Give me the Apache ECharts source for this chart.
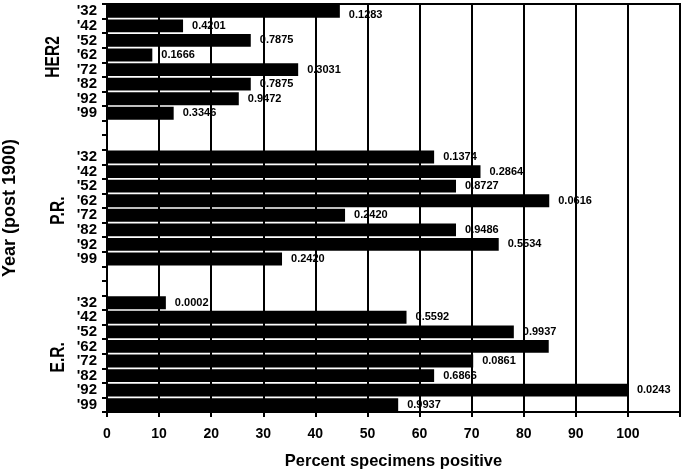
<!DOCTYPE html>
<html><head><meta charset="utf-8">
<script src="https://cdn.jsdelivr.net/npm/echarts@6/dist/echarts.min.js"></script>
<style>html,body{margin:0;padding:0;background:#fff}#c{width:685px;height:470px}</style>
</head><body><div id="c"></div>
<script>
const years = ["'32","'42","'52","'62","'72","'82","'92","'99"];
const groups = ["HER2","P.R.","E.R."];
const her2 = [44.7,14.6,27.6,8.7,36.7,27.6,25.3,12.8];
const pr   = [62.8,71.7,67.0,84.9,45.7,67.0,75.2,33.6];
const er   = [11.3,57.5,78.1,84.8,70.3,62.8,100.0,55.9];
const her2P = ["0.1283","0.4201","0.7875","0.1666","0.3031","0.7875","0.9472","0.3346"];
const prP   = ["0.1374","0.2864","0.8727","0.0616","0.2420","0.9486","0.5534","0.2420"];
const erP   = ["0.0002","0.5592","0.9937","","0.0861","0.6866","0.0243","0.9937"];
const xTicks = [0,10,20,30,40,50,60,70,80,90,100];

const groupVals = [her2, pr, er];
const groupP = [her2P, prP, erP];
const cats = [], vals = [], pl = [], groupMid = [];
groupVals.forEach((g, gi) => {
  years.forEach((y, i) => {
    cats.push(groups[gi] + '|' + y);
    const item = { value: g[i] };
    if (gi === 0 && i === 0) item.label = { offset: [0, 4] };
    vals.push(item);
    pl.push(groupP[gi][i]);
  });
  groupMid.push(cats.length - 4);
  if (gi < groupVals.length - 1) {
    for (let k = 0; k < 2; k++) { cats.push('gap' + gi + k); vals.push(null); pl.push(''); }
  }
});

const font = '"Liberation Sans", Arial, sans-serif';
const chart = echarts.init(document.getElementById('c'));
chart.setOption({
  animation: false,
  grid: { left: 107, right: 5, top: 4, bottom: 58, containLabel: false, outerBoundsMode: 'none',
    show: true, borderColor: '#000', borderWidth: 2, backgroundColor: 'transparent' },
  xAxis: {
    type: 'value', min: 0, max: 110, interval: 10,
    name: 'Percent specimens positive', nameLocation: 'middle', nameGap: 41,
    nameTextStyle: { fontFamily: font, fontWeight: 'bold', fontSize: 16.5, color: '#000' },
    axisLine: { show: true, lineStyle: { color: '#000', width: 2 } },
    axisTick: { show: true, length: 5, lineStyle: { color: '#000', width: 2 } },
    axisLabel: { fontFamily: font, fontWeight: 'bold', fontSize: 14, color: '#000', margin: 15,
      formatter: v => xTicks.indexOf(v) >= 0 ? String(v) : '' },
    splitLine: { show: true, lineStyle: { color: '#000', width: 2 } }
  },
  yAxis: {
    type: 'category', data: cats, inverse: true,
    name: 'Year (post 1900)', nameLocation: 'middle', nameGap: 88,
    nameTextStyle: { fontFamily: font, fontWeight: 'bold', fontSize: 18, color: '#000' },
    axisLine: { show: true, lineStyle: { color: '#000', width: 2 } },
    axisTick: { show: true, length: 5, lineStyle: { color: '#000', width: 2 } },
    axisLabel: { interval: 0, fontFamily: font, fontWeight: 'bold', fontSize: 15, color: '#000', margin: 10,
      formatter: v => v.indexOf('|') >= 0 ? v.split('|')[1] : '' },
    splitLine: { show: false }
  },
  series: [{
    type: 'bar', data: vals, barCategoryGap: '12%',
    itemStyle: { color: '#000' },
    label: { show: true, position: 'right', distance: 9, fontFamily: font, fontWeight: 'bold', fontSize: 11, color: '#000',
      formatter: p => pl[p.dataIndex] }
  }]
});
const yShift = [-7, 1, 2];
const xPos = [53, 58, 58];
const gfx = groups.map((g, i) => {
  const y = chart.convertToPixel({ yAxisIndex: 0 }, cats[groupMid[i]]) - chart.convertToPixel({ yAxisIndex: 0 }, cats[0]) / 2 + yShift[i];
  return { type: 'text', rotation: Math.PI / 2, x: xPos[i], y: y, scaleX: 0.74,
    style: { text: g, fontFamily: font, fontWeight: 'bold', fontSize: 21, fill: '#000', align: 'center', verticalAlign: 'middle' } };
});
chart.setOption({ graphic: gfx });
</script></body></html>
